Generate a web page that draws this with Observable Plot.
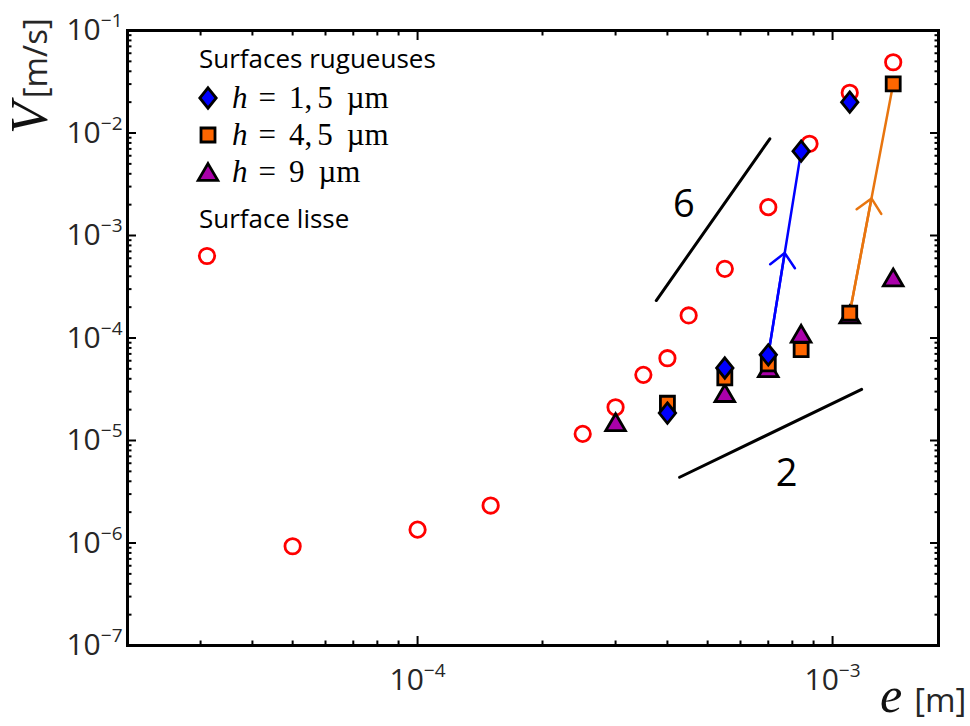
<!DOCTYPE html>
<html><head><meta charset="utf-8">
<script src="https://cdn.jsdelivr.net/npm/d3@7"></script>
<script src="https://cdn.jsdelivr.net/npm/@observablehq/plot@0.6"></script>
<style>
html,body{margin:0;padding:0;background:#fff;}
#chart{width:970px;height:726px;}
</style></head><body><div id="chart"></div>
<script>
// ---- data (e in m, V in m/s) ----
// Surface lisse (smooth surface)
const smoothE = [5.0e-5, 1.0e-4, 1.5e-4, 2.5e-4, 3.0e-4, 3.5e-4, 4.0e-4, 4.5e-4, 5.5e-4, 7.0e-4, 8.8e-4, 1.1e-3, 1.4e-3];
const smoothV = [9.3e-7, 1.35e-6, 2.32e-6, 1.16e-5, 2.11e-5, 4.37e-5, 6.35e-5, 1.66e-4, 4.73e-4, 1.89e-3, 7.85e-3, 2.47e-2, 4.9e-2];
// Surfaces rugueuses, h = 1,5 µm
const h15E = [4.0e-4, 5.5e-4, 7.0e-4, 8.4e-4, 1.1e-3];
const h15V = [1.85e-5, 5.1e-5, 6.85e-5, 6.65e-3, 2.0e-2];
// h = 4,5 µm
const h45E = [4.0e-4, 5.5e-4, 7.0e-4, 8.4e-4, 1.1e-3, 1.4e-3];
const h45V = [2.31e-5, 4.09e-5, 5.6e-5, 7.7e-5, 1.75e-4, 3.02e-2];
// h = 9 µm
const h9E = [3.0e-4, 5.5e-4, 7.0e-4, 8.4e-4, 1.1e-3, 1.4e-3];
const h9V = [1.51e-5, 2.9e-5, 5.08e-5, 1.1e-4, 1.7e-4, 3.9e-4];
// jumps (indices into the series above)
const jumpBlue = [2, 3];
const jumpOrange = [4, 5];
// slope guide lines
const slope6E = [3.76e-4, 7.06e-4];
const slope6V = [2.32e-4, 8.77e-3];
const slope2E = [4.28e-4, 1.175e-3];
const slope2V = [4.38e-6, 3.15e-5];
const slopeLabels = ["6", "2"];
const slopeLabelE = [4.38e-4, 7.75e-4];
const slopeLabelV = [2.0e-3, 4.77e-6];
// ticks
const xMajor = [1e-4, 1e-3];
const xExp = ["−4", "−3"];
const yMajor = [1e-7, 1e-6, 1e-5, 1e-4, 1e-3, 1e-2, 1e-1];
const yExp = ["−7", "−6", "−5", "−4", "−3", "−2", "−1"];
const mantissas = [2, 3, 4, 5, 6, 7, 8, 9];
const xDomain = [2e-5, 1.8e-3];
const yDomain = [1e-7, 1e-1];
// legend
const legendTitle1 = "Surfaces rugueuses";
const legendTitle2 = "Surface lisse";
const legendValues = [["1,", "5"], ["4,", "5"], ["9"]];

// ---- derived tables ----
const zip = (E, V) => E.map((e, i) => ({e, v: V[i]}));
const smooth = zip(smoothE, smoothV);
const h15 = zip(h15E, h15V);
const h45 = zip(h45E, h45V);
const h9 = zip(h9E, h9V);
const jumpLine = (s, idx) => idx.map(i => s[i]);
const midArrow = (s, idx) => {
  const a = s[idx[0]], b = s[idx[1]];
  return [{x1: a.e, y1: a.v, x2: Math.sqrt(a.e * b.e), y2: Math.sqrt(a.v * b.v)}];
};
const minorTicks = (domain) => {
  const out = [];
  for (let k = -8; k <= 0; k++) for (const m of mantissas) {
    const t = m * Math.pow(10, k);
    if (t > domain[0] * 1.0001 && t < domain[1] * 0.9999) out.push(t);
  }
  return out;
};
const xMinor = minorTicks(xDomain);
const yMinor = minorTicks(yDomain);
const expOf = (ticks, exps) => d => { const i = ticks.findIndex(t => Math.abs(t / d - 1) < 1e-6); return i >= 0 ? "10^" + exps[i] : ""; };

// ---- symbols ----
const diamondSym = {draw(c) { const w = 8.2, h = 10.2; c.moveTo(0, -h); c.lineTo(w, 0); c.lineTo(0, h); c.lineTo(-w, 0); c.closePath(); }};
const squareSym = {draw(c) { const s = 7.0; c.moveTo(-s, -s); c.lineTo(s, -s); c.lineTo(s, s); c.lineTo(-s, s); c.closePath(); }};
const triangleSym = {draw(c) { const w = 9.8, h = 8.4; c.moveTo(0, -h); c.lineTo(w, h); c.lineTo(-w, h); c.closePath(); }};

const BLUE = "#0000ff", ORANGE = "#ff6600", PURPLE = "#aa00aa", RED = "#ff0000", ORANGE_LINE = "#e8750f";
const TXT = "#262626";

const noText = () => "";
const tickOpts = {strokeWidth: 2, tickFormat: noText, label: null};

const chart = Plot.plot({
  width: 970, height: 726,
  marginLeft: 127, marginRight: 32, marginTop: 30, marginBottom: 81,
  style: {fontFamily: "'Open Sans', sans-serif", background: "white"},
  x: {type: "log", domain: xDomain, label: null},
  y: {type: "log", domain: yDomain, label: null},
  marks: [
    // inward ticks on all four sides
    Plot.axisX(xMajor, {anchor: "bottom", tickSize: -9, ...tickOpts}),
    Plot.axisX(xMinor, {anchor: "bottom", tickSize: -4.5, ...tickOpts}),
    Plot.axisX(xMajor, {anchor: "top", tickSize: -9, ...tickOpts}),
    Plot.axisX(xMinor, {anchor: "top", tickSize: -4.5, ...tickOpts}),
    Plot.axisY(yMajor, {anchor: "left", tickSize: -9, ...tickOpts}),
    Plot.axisY(yMinor, {anchor: "left", tickSize: -4.5, ...tickOpts}),
    Plot.axisY(yMajor, {anchor: "right", tickSize: -9, ...tickOpts}),
    Plot.axisY(yMinor, {anchor: "right", tickSize: -4.5, ...tickOpts}),
    // tick labels
    Plot.axisX(xMajor, {anchor: "bottom", tickSize: 0, tickPadding: 23, fontSize: 30, fill: TXT, label: null, tickFormat: expOf(xMajor, xExp)}),
    Plot.axisY(yMajor, {anchor: "left", tickSize: 0, tickPadding: 5, fontSize: 30, fill: TXT, label: null, tickFormat: expOf(yMajor, yExp)}),
    // slope guides
    Plot.line(zip(slope6E, slope6V), {x: "e", y: "v", stroke: "black", strokeWidth: 3}),
    Plot.line(zip(slope2E, slope2V), {x: "e", y: "v", stroke: "black", strokeWidth: 3}),
    Plot.text(slopeLabels, {x: (d, i) => slopeLabelE[i], y: (d, i) => slopeLabelV[i], text: d => d, fontSize: 38, fill: "black", textAnchor: "middle", lineAnchor: "middle"}),
    // jump lines with mid arrows
    Plot.line(jumpLine(h15, jumpBlue), {x: "e", y: "v", stroke: BLUE, strokeWidth: 2.5}),
    Plot.arrow(midArrow(h15, jumpBlue), {x1: "x1", y1: "y1", x2: "x2", y2: "y2", stroke: BLUE, strokeWidth: 2.5, headAngle: 86, headLength: 11}),
    Plot.line(jumpLine(h45, jumpOrange), {x: "e", y: "v", stroke: ORANGE_LINE, strokeWidth: 2.5}),
    Plot.arrow(midArrow(h45, jumpOrange), {x1: "x1", y1: "y1", x2: "x2", y2: "y2", stroke: ORANGE_LINE, strokeWidth: 2.5, headAngle: 86, headLength: 11}),
    // data
    Plot.dot(smooth, {x: "e", y: "v", r: 7.7, stroke: RED, strokeWidth: 2.8, fill: "none"}),
    Plot.dot(h9, {x: "e", y: "v", symbol: triangleSym, fill: PURPLE, stroke: "black", strokeWidth: 2.8}),
    Plot.dot(h45, {x: "e", y: "v", symbol: squareSym, fill: ORANGE, stroke: "black", strokeWidth: 2.8}),
    Plot.dot(h15, {x: "e", y: "v", symbol: diamondSym, fill: BLUE, stroke: "black", strokeWidth: 2.8}),
    Plot.frame({stroke: "black", strokeWidth: 3})
  ]
});

const svg = d3.select(chart);
// superscript tick labels
svg.selectAll('g[aria-label="x-axis tick label"] text, g[aria-label="y-axis tick label"] text').each(function() {
  const s = this.textContent;
  if (!s.includes("^")) return;
  const [base, exp] = s.split("^");
  const t = d3.select(this);
  t.text(null);
  t.append("tspan").text(base);
  t.append("tspan").attr("dy", "-0.68em").attr("font-size", "19px").text(exp);
});

// axis labels
const yl = svg.append("text").attr("transform", "translate(47,134) rotate(-90)").attr("fill", TXT).attr("text-anchor", "start");
yl.append("tspan").attr("font-family", "'Liberation Serif', serif").attr("font-style", "italic").attr("font-size", 52).attr("fill", "#111").text("V");
yl.append("tspan").attr("dx", 4).attr("font-family", "'Open Sans', sans-serif").attr("font-size", 33).text("[m/s]");

const xl = svg.append("text").attr("x", 880).attr("y", 712).attr("fill", TXT).attr("text-anchor", "start");
xl.append("tspan").attr("font-family", "'Liberation Serif', serif").attr("font-style", "italic").attr("font-size", 50).attr("fill", "#111").text("e");
xl.append("tspan").attr("dx", 12).attr("font-family", "'Open Sans', sans-serif").attr("font-size", 33).text("[m]");

// legend
const lg = svg.append("g").attr("fill", "black").attr("text-anchor", "start");
lg.append("text").attr("x", 199).attr("y", 68).attr("font-size", 26).attr("font-family", "'Open Sans', sans-serif").text(legendTitle1);
lg.append("text").attr("x", 199).attr("y", 228).attr("font-size", 26).attr("font-family", "'Open Sans', sans-serif").text(legendTitle2);
const legSyms = [[diamondSym, BLUE, 98], [squareSym, ORANGE, 135], [triangleSym, PURPLE, 172]];
legSyms.forEach(([sym, col, y], i) => {
  lg.append("path").attr("d", d3.symbol(sym)()).attr("transform", `translate(208,${y})`)
    .attr("fill", col).attr("stroke", "black").attr("stroke-width", 2.8);
  const t = lg.append("text").attr("x", 232).attr("y", y + 10).attr("font-family", "'Liberation Serif', serif").attr("font-size", 31);
  t.append("tspan").attr("font-style", "italic").text("h");
  t.append("tspan").attr("dx", 11).text("=");
  const vals = legendValues[i];
  t.append("tspan").attr("dx", 13).text(vals[0]);
  if (vals.length > 1) t.append("tspan").attr("dx", 5).text(vals[1]);
  t.append("tspan").attr("dx", 14).text("µm");
});
lg.append("circle").attr("cx", 207).attr("cy", 256).attr("r", 7.7).attr("fill", "none").attr("stroke", RED).attr("stroke-width", 2.8);

document.getElementById("chart").appendChild(chart);
</script>
</body></html>
